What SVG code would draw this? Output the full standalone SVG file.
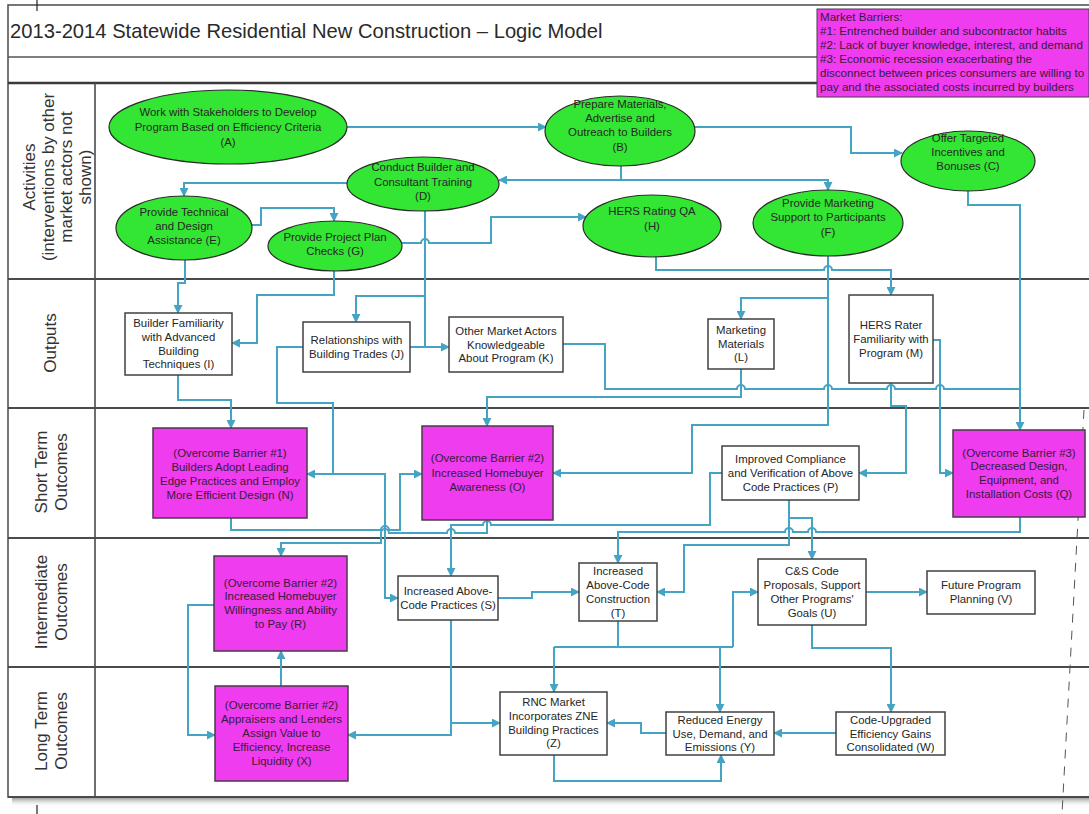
<svg xmlns="http://www.w3.org/2000/svg" width="1089" height="814" viewBox="0 0 1089 814">
  <defs>
    <marker id="ah" viewBox="0 0 10 10" refX="9" refY="5" markerWidth="9" markerHeight="9" markerUnits="userSpaceOnUse" orient="auto">
      <path d="M0,0 L10,5 L0,10 z" fill="#45a3c4"/>
    </marker>
    <linearGradient id="shade" x1="0" y1="0" x2="0" y2="1">
      <stop offset="0" stop-color="#8a8a8a"/>
      <stop offset="1" stop-color="#ffffff" stop-opacity="0"/>
    </linearGradient>
    <style>
      .frame { fill: none; stroke: #555; stroke-width: 1.6; }
      .lane { stroke: #4a4a4a; stroke-width: 2; }
      .lbl { font-family: "Liberation Sans", Arial, sans-serif; font-size: 17px; fill: #333; text-anchor: middle; }
      .ell { fill: #33e633; stroke: #2b2b2b; stroke-width: 1.2; }
      .box { fill: #ffffff; stroke: #404040; stroke-width: 1.5; }
      .mag { fill: #ee3cee; stroke: #4a3a4a; stroke-width: 1.5; }
      .t { font-family: "Liberation Sans", Arial, sans-serif; font-size: 11.4px; fill: #262626; text-anchor: middle; }
      .tm { font-family: "Liberation Sans", Arial, sans-serif; font-size: 11.4px; fill: #3a1a3a; text-anchor: middle; }
      .c { fill: none; stroke: #45a3c4; stroke-width: 2; }
      .a { marker-end: url(#ah); }
    </style>
  </defs>

  <rect width="1089" height="814" fill="#ffffff"/>

  <!-- page frame, shadow and crop marks -->
  <g id="frame">
    <rect x="12" y="797" width="1080" height="10" fill="url(#shade)"/>
    <rect x="8" y="5" width="1095" height="792" fill="#ffffff" class="frame"/>
    <line x1="8" y1="57" x2="1089" y2="57" stroke="#555" stroke-width="1.6"/>
    <line x1="8" y1="83" x2="1089" y2="83" stroke="#3a3a3a" stroke-width="2.6"/>
    <line class="lane" x1="8" y1="279" x2="1089" y2="279"/>
    <line class="lane" x1="8" y1="408" x2="1089" y2="408"/>
    <line class="lane" x1="8" y1="538" x2="1089" y2="538"/>
    <line class="lane" x1="8" y1="667" x2="1089" y2="667"/>
    <line class="lane" x1="8" y1="797" x2="1089" y2="797"/>
    <line x1="95" y1="83" x2="95" y2="797" stroke="#4a4a4a" stroke-width="1.6"/>
    <line x1="37" y1="0" x2="37" y2="11" stroke="#222" stroke-width="1.2"/>
    <line x1="37" y1="805" x2="37" y2="814" stroke="#222" stroke-width="1.2"/>
    <line x1="1084" y1="410" x2="1062" y2="814" stroke="#555" stroke-width="1" stroke-dasharray="9,8"/>
    <text x="10" y="38" font-family="Liberation Sans, Arial, sans-serif" font-size="20.2" fill="#2a2a2a">2013-2014 Statewide Residential New Construction – Logic Model</text>
  </g>

  <!-- market barrier legend -->
  <g id="barriers">
    <rect x="817" y="9" width="272" height="88" fill="#ee3cee" stroke="#4a3a4a" stroke-width="1"/>
    <text font-family="Liberation Sans, Arial, sans-serif" font-size="11.6" fill="#3a1a3a">
      <tspan x="820" y="21">Market Barriers:</tspan>
      <tspan x="820" y="35">#1: Entrenched builder and subcontractor habits</tspan>
      <tspan x="820" y="49">#2: Lack of buyer knowledge, interest, and demand</tspan>
      <tspan x="820" y="63">#3: Economic recession exacerbating the</tspan>
      <tspan x="820" y="77">disconnect between prices consumers are willing to</tspan>
      <tspan x="820" y="91">pay and the associated costs incurred by builders</tspan>
    </text>
  </g>

  <!-- swimlane labels -->
  <g id="lanes">
    <text class="lbl" transform="translate(35,177) rotate(-90)"><tspan x="0" y="0">Activities</tspan><tspan x="0" dy="18.5">(interventions by other</tspan><tspan x="0" dy="18.5">market actors not</tspan><tspan x="0" dy="18.5">shown)</tspan></text>
    <text class="lbl" transform="translate(56,343) rotate(-90)"><tspan x="0" y="0">Outputs</tspan></text>
    <text class="lbl" transform="translate(47,472) rotate(-90)"><tspan x="0" y="0">Short Term</tspan><tspan x="0" dy="20">Outcomes</tspan></text>
    <text class="lbl" transform="translate(47,602) rotate(-90)"><tspan x="0" y="0">Intermediate</tspan><tspan x="0" dy="20">Outcomes</tspan></text>
    <text class="lbl" transform="translate(47,731) rotate(-90)"><tspan x="0" y="0">Long Term</tspan><tspan x="0" dy="20">Outcomes</tspan></text>
  </g>

  <!-- connectors -->
  <g id="connectors">
    <path class="c a" d="M347,127 H546"/>
    <path class="c a" d="M695,127 H851 V153 H902"/>
    <path class="c a" d="M621,166 V180 H499"/>
    <path class="c a" d="M621,180 H828 V190"/>
    <path class="c a" d="M347,183 H184 V196"/>
    <path class="c a" d="M252,225 H261 V208 H334 V221"/>
    <path class="c a" d="M402,243 H421 a4,4 0 0 1 8,0 H491 V217 H586"/>
    <path class="c a" d="M425,211 V347 H449"/>
    <path class="c a" d="M425,296 H356 V322"/>
    <path class="c" d="M410,347 H425"/>
    <path class="c a" d="M185,260 V283 H178 V313"/>
    <path class="c a" d="M334,271 V295 H257 V343 H232"/>
    <path class="c a" d="M656,257 V270 H824 a4,4 0 0 1 8,0 H891 V295"/>
    <path class="c a" d="M828,256 V298 H741 V319"/>
    <path class="c a" d="M828,298 V425 H692 V473 H553"/>
    <path class="c a" d="M968,191 V205 H1020 V430"/>
    <path class="c" d="M563,344 H605 V389 H737 a4,4 0 0 1 8,0 H824 a4,4 0 0 1 8,0 H887 a4,4 0 0 1 8,0 H936 a4,4 0 0 1 8,0 H1020"/>
    <path class="c a" d="M741,369 V397 H487 V426"/>
    <path class="c a" d="M891,383 V406 H906 V473 H859"/>
    <path class="c a" d="M933,340 H940 V473 H953"/>
    <path class="c a" d="M178,375 V400 H231 V428"/>
    <path class="c a" d="M303,347 H277 V403 H333 V474 H307"/>
    <path class="c a" d="M333,474 H385 V598 H398"/>
    <path class="c a" d="M231,518 V530 H381 a4,4 0 0 1 8,0 H400 V474 H422"/>
    <path class="c a" d="M487,520 V533 H455 a4,4 0 0 0 -8,0 H389 a4,4 0 0 0 -8,0 V543 H281 V556"/>
    <path class="c a" d="M722,473 H710 V525 H491 a4,4 0 0 0 -8,0 H451 V576"/>
    <path class="c a" d="M789,500 V545 H684 V592 H657"/>
    <path class="c a" d="M789,518 H812 V559"/>
    <path class="c a" d="M1020,517 V532 H816 a4,4 0 0 0 -8,0 H793 a4,4 0 0 0 -8,0 H618 V563"/>
    <path class="c a" d="M498,598 H532 V592 H579"/>
    <path class="c" d="M618,621 V647 M554,647 H733"/>
    <path class="c a" d="M554,647 V692"/>
    <path class="c a" d="M733,647 V592 H758"/>
    <path class="c a" d="M720,647 V712"/>
    <path class="c a" d="M866,592 H927"/>
    <path class="c a" d="M812,625 V648 H891 V712"/>
    <path class="c a" d="M836,733 H774"/>
    <path class="c a" d="M666,733 H641 V723 H607"/>
    <path class="c a" d="M554,755 V781 H721 V755"/>
    <path class="c a" d="M451,620 V735 H348"/>
    <path class="c a" d="M451,723 H500"/>
    <path class="c a" d="M214,605 H188 V735 H215"/>
    <path class="c a" d="M281,686 V651"/>
  </g>

  <!-- activities -->
  <g id="A"><ellipse class="ell" cx="228" cy="127" rx="119" ry="37"/>
    <text class="t"><tspan x="228" y="116">Work with Stakeholders to Develop</tspan><tspan x="228" y="131">Program Based on Efficiency Criteria</tspan><tspan x="228" y="146">(A)</tspan></text></g>
  <g id="B"><ellipse class="ell" cx="620" cy="131" rx="75" ry="35"/>
    <text class="t"><tspan x="620" y="108">Prepare Materials,</tspan><tspan x="620" y="122">Advertise and</tspan><tspan x="620" y="136">Outreach to Builders</tspan><tspan x="620" y="151">(B)</tspan></text></g>
  <g id="C"><ellipse class="ell" cx="968" cy="161" rx="67" ry="30"/>
    <text class="t"><tspan x="968" y="142">Offer Targeted</tspan><tspan x="968" y="156">Incentives and</tspan><tspan x="968" y="170">Bonuses (C)</tspan></text></g>
  <g id="D"><ellipse class="ell" cx="423" cy="184" rx="76" ry="27"/>
    <text class="t"><tspan x="423" y="171">Conduct Builder and</tspan><tspan x="423" y="186">Consultant Training</tspan><tspan x="423" y="200">(D)</tspan></text></g>
  <g id="E"><ellipse class="ell" cx="184" cy="228" rx="68" ry="32"/>
    <text class="t"><tspan x="184" y="216">Provide Technical</tspan><tspan x="184" y="230">and Design</tspan><tspan x="184" y="244">Assistance (E)</tspan></text></g>
  <g id="G"><ellipse class="ell" cx="335" cy="246" rx="67" ry="25"/>
    <text class="t"><tspan x="335" y="241">Provide Project Plan</tspan><tspan x="335" y="255">Checks (G)</tspan></text></g>
  <g id="H"><ellipse class="ell" cx="652" cy="226" rx="69" ry="31"/>
    <text class="t"><tspan x="652" y="215">HERS Rating QA</tspan><tspan x="652" y="230">(H)</tspan></text></g>
  <g id="F"><ellipse class="ell" cx="828" cy="223" rx="75" ry="33"/>
    <text class="t"><tspan x="828" y="207">Provide Marketing</tspan><tspan x="828" y="221">Support to Participants</tspan><tspan x="828" y="236">(F)</tspan></text></g>

  <!-- outputs -->
  <g id="I"><rect class="box" x="125" y="313" width="107" height="62"/>
    <text class="t"><tspan x="178.5" y="327">Builder Familiarity</tspan><tspan x="178.5" y="341">with Advanced</tspan><tspan x="178.5" y="355">Building</tspan><tspan x="178.5" y="368">Techniques (I)</tspan></text></g>
  <g id="J"><rect class="box" x="303" y="322" width="107" height="50"/>
    <text class="t"><tspan x="356.5" y="344">Relationships with</tspan><tspan x="356.5" y="358">Building Trades (J)</tspan></text></g>
  <g id="K"><rect class="box" x="449" y="317" width="114" height="55"/>
    <text class="t"><tspan x="506" y="335">Other Market Actors</tspan><tspan x="506" y="349">Knowledgeable</tspan><tspan x="506" y="362">About Program (K)</tspan></text></g>
  <g id="L"><rect class="box" x="708" y="319" width="66" height="50"/>
    <text class="t"><tspan x="741" y="334">Marketing</tspan><tspan x="741" y="348">Materials</tspan><tspan x="741" y="361">(L)</tspan></text></g>
  <g id="M"><rect class="box" x="849" y="295" width="84" height="88"/>
    <text class="t"><tspan x="891" y="329">HERS Rater</tspan><tspan x="891" y="343">Familiarity with</tspan><tspan x="891" y="357">Program (M)</tspan></text></g>

  <!-- short term outcomes -->
  <g id="N"><rect class="mag" x="153" y="428" width="154" height="90"/>
    <text class="tm"><tspan x="230" y="457">(Overcome Barrier #1)</tspan><tspan x="230" y="471">Builders Adopt Leading</tspan><tspan x="230" y="485">Edge Practices and Employ</tspan><tspan x="230" y="499">More Efficient Design (N)</tspan></text></g>
  <g id="O"><rect class="mag" x="422" y="426" width="131" height="94"/>
    <text class="tm"><tspan x="487.5" y="462">(Overcome Barrier #2)</tspan><tspan x="487.5" y="477">Increased Homebuyer</tspan><tspan x="487.5" y="491">Awareness (O)</tspan></text></g>
  <g id="P"><rect class="box" x="722" y="446" width="137" height="54"/>
    <text class="t"><tspan x="790.5" y="463">Improved Compliance</tspan><tspan x="790.5" y="477">and Verification of Above</tspan><tspan x="790.5" y="491">Code Practices (P)</tspan></text></g>
  <g id="Q"><rect class="mag" x="953" y="430" width="132" height="87"/>
    <text class="tm"><tspan x="1019" y="457">(Overcome Barrier #3)</tspan><tspan x="1019" y="470">Decreased Design,</tspan><tspan x="1019" y="484">Equipment, and</tspan><tspan x="1019" y="498">Installation Costs (Q)</tspan></text></g>

  <!-- intermediate outcomes -->
  <g id="R"><rect class="mag" x="214" y="556" width="133" height="95"/>
    <text class="tm"><tspan x="280.5" y="587">(Overcome Barrier #2)</tspan><tspan x="280.5" y="600">Increased Homebuyer</tspan><tspan x="280.5" y="614">Willingness and Ability</tspan><tspan x="280.5" y="628">to Pay (R)</tspan></text></g>
  <g id="S"><rect class="box" x="398" y="576" width="100" height="44"/>
    <text class="t"><tspan x="448" y="595">Increased Above-</tspan><tspan x="448" y="609">Code Practices (S)</tspan></text></g>
  <g id="T"><rect class="box" x="579" y="563" width="78" height="58"/>
    <text class="t"><tspan x="618" y="575">Increased</tspan><tspan x="618" y="589">Above-Code</tspan><tspan x="618" y="603">Construction</tspan><tspan x="618" y="617">(T)</tspan></text></g>
  <g id="U"><rect class="box" x="758" y="559" width="108" height="66"/>
    <text class="t"><tspan x="812" y="575">C&amp;S Code</tspan><tspan x="812" y="589">Proposals, Support</tspan><tspan x="812" y="603">Other Programs'</tspan><tspan x="812" y="617">Goals (U)</tspan></text></g>
  <g id="V"><rect class="box" x="927" y="571" width="108" height="43"/>
    <text class="t"><tspan x="981" y="589">Future Program</tspan><tspan x="981" y="603">Planning (V)</tspan></text></g>

  <!-- long term outcomes -->
  <g id="X"><rect class="mag" x="215" y="686" width="133" height="95"/>
    <text class="tm"><tspan x="281.5" y="709">(Overcome Barrier #2)</tspan><tspan x="281.5" y="723">Appraisers and Lenders</tspan><tspan x="281.5" y="737">Assign Value to</tspan><tspan x="281.5" y="751">Efficiency, Increase</tspan><tspan x="281.5" y="765">Liquidity (X)</tspan></text></g>
  <g id="Z"><rect class="box" x="500" y="692" width="107" height="63"/>
    <text class="t"><tspan x="553.5" y="706">RNC Market</tspan><tspan x="553.5" y="720">Incorporates ZNE</tspan><tspan x="553.5" y="734">Building Practices</tspan><tspan x="553.5" y="747">(Z)</tspan></text></g>
  <g id="Y"><rect class="box" x="666" y="712" width="108" height="43"/>
    <text class="t"><tspan x="720" y="724">Reduced Energy</tspan><tspan x="720" y="738">Use, Demand, and</tspan><tspan x="720" y="751">Emissions (Y)</tspan></text></g>
  <g id="W"><rect class="box" x="836" y="712" width="109" height="43"/>
    <text class="t"><tspan x="890.5" y="724">Code-Upgraded</tspan><tspan x="890.5" y="738">Efficiency Gains</tspan><tspan x="890.5" y="751">Consolidated (W)</tspan></text></g>
</svg>
